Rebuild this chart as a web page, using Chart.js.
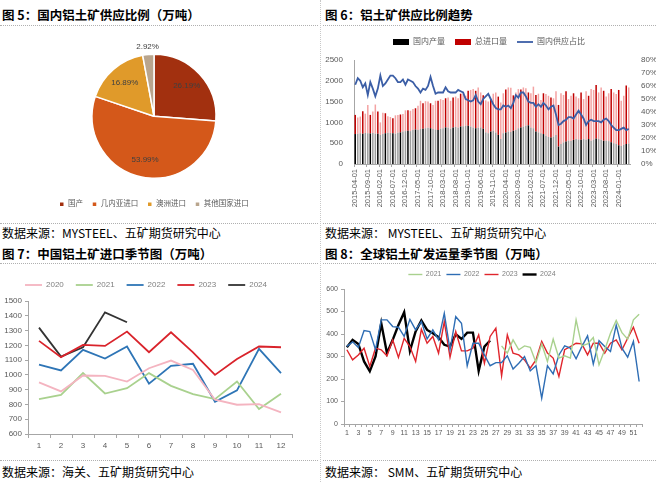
<!DOCTYPE html>
<html>
<head>
<meta charset="utf-8">
<script src="https://cdn.jsdelivr.net/npm/chart.js@4.4.1/dist/chart.umd.min.js"></script>
<style>
  body { margin: 0; width: 656px; height: 482px; background: #fff; position: relative; overflow: hidden;
         font-family: "Noto Sans CJK SC", sans-serif; }
  .title { position: absolute; font-weight: bold; font-size: 12.5px; line-height: 16px; color: #000; white-space: nowrap; }
  .src { position: absolute; font-size: 12px; line-height: 16px; color: #000; white-space: nowrap; }
  .hline { position: absolute; height: 0; border-top: 1px dotted #b0b0b0; }
  .vline { position: absolute; width: 0; border-left: 1px dotted #c8c8c8; top: 0; height: 482px; left: 320px; }
  canvas { position: absolute; }
</style>
</head>
<body>
<div class="title" style="left:2px;top:7px">图 5：国内铝土矿供应比例（万吨）</div>
<div class="title" style="left:325px;top:7px">图 6：铝土矿供应比例趋势</div>
<div class="hline" style="left:0;top:25px;width:318px"></div>
<div class="hline" style="left:323px;top:25px;width:333px"></div>
<div class="hline" style="left:0;top:223px;width:318px"></div>
<div class="hline" style="left:323px;top:223px;width:333px"></div>
<div class="src" style="left:2px;top:225px">数据来源：MYSTEEL、五矿期货研究中心</div>
<div class="src" style="left:325px;top:225px">数据来源：&nbsp;MYSTEEL、五矿期货研究中心</div>

<div class="title" style="left:2px;top:246px">图 7：中国铝土矿进口季节图（万吨）</div>
<div class="title" style="left:325px;top:246px">图 8：全球铝土矿发运量季节图（万吨）</div>
<div class="hline" style="left:0;top:263px;width:318px"></div>
<div class="hline" style="left:323px;top:263px;width:333px"></div>
<div class="hline" style="left:0;top:460px;width:318px"></div>
<div class="hline" style="left:323px;top:460px;width:333px"></div>
<div class="src" style="left:2px;top:464px">数据来源：海关、五矿期货研究中心</div>
<div class="src" style="left:325px;top:464px">数据来源：&nbsp;SMM、五矿期货研究中心</div>
<div class="vline"></div>

<canvas id="pieChart" width="318" height="192" style="left:0;top:28px"></canvas>
<canvas id="trendChart" width="334" height="192" style="left:322px;top:28px"></canvas>
<canvas id="importChart" width="318" height="192" style="left:0;top:266px"></canvas>
<canvas id="shipChart" width="334" height="192" style="left:322px;top:266px"></canvas>

<script>
// ---- 图5 ----
const pieLabels = ["国产", "几内亚进口", "澳洲进口", "其他国家进口"];
const pieShares = [26.19, 53.99, 16.89, 2.92];

// ---- 图6 ---- (2015-04 .. 2024-05, 万吨 / %)
const domestic = [
  720, 730, 740, 730, 745, 740, 735, 745, 730,
  730, 700, 720, 740, 750, 745, 740, 730, 750, 760, 780, 790,
  800, 790, 820, 830, 820, 840, 850, 860, 870, 860, 840, 830,
  820, 850, 860, 880, 870, 850, 880, 890, 870, 900, 910, 920,
  920, 900, 880, 860, 870, 880, 850, 760, 740, 780, 800, 760,
  700, 600, 740, 760, 780, 770, 800, 820, 860, 880, 900, 920,
  930, 880, 860, 780, 760, 740, 720, 680, 650, 640, 660, 700,
  420, 480, 520, 540, 560, 550, 580, 600, 590, 580, 600, 580,
  600, 560, 590, 610, 600, 580, 560, 560, 550, 520, 500, 480,
  450, 430, 460, 480, 490
];
const imports = [
  460, 390, 400, 540, 465, 680, 445, 515, 700,
  530, 300, 510, 480, 400, 385, 360, 440, 430, 430, 420, 500,
  490, 490, 500, 510, 580, 680, 610, 650, 630, 600, 580, 690,
  700, 710, 680, 700, 730, 670, 720, 730, 710, 790, 790, 720,
  840, 880, 920, 900, 970, 840, 800, 770, 760, 770, 890, 960,
  920, 880, 960, 1030, 1060, 1060, 850, 900, 940, 910, 940, 900,
  790, 820, 1000, 880, 930, 800, 980, 1000, 990, 960, 920, 1050,
  1000, 1220, 1140, 1210, 1000, 1090, 1120, 1020, 990, 1140, 960, 1170,
  1040, 1240, 1190, 1290, 1120, 1260, 1200, 1060, 1150, 1280, 1220, 1200,
  1330, 1090, 1180, 1410, 1350
];
const domesticShare = [
  61, 66, 64, 59, 62, 53, 63, 58, 52,
  58, 68, 60, 62, 65, 68, 68, 66, 63, 63, 65, 61,
  65, 64, 63, 60, 58, 55, 58, 57, 60, 67, 60, 54,
  55, 55, 55, 59, 56, 55, 55, 55, 57, 56, 55, 50,
  49, 48, 49, 53, 48, 46, 50, 52, 54, 50, 46, 43,
  42, 42, 45, 44, 45, 43, 47, 53, 51, 55, 55, 52,
  48, 47, 47, 44, 46, 44, 47, 45, 42, 44, 45, 38,
  30, 31, 33, 34, 36, 36, 35, 38, 41, 38, 35, 30,
  33, 34, 33, 33, 33, 32, 34, 35, 33, 30, 28, 26,
  26, 27, 28, 26, 27
];
const months = [];
for (let y = 2015, m = 4; months.length < domestic.length; m++) {
  if (m > 12) { m = 1; y++; }
  months.push(y + "-" + String(m).padStart(2, "0") + "-01");
}

// ---- 图7 ----
const importMonths = ["1", "2", "3", "4", "5", "6", "7", "8", "9", "10", "11", "12"];
const imp2020 = [949, 888, 996, 994, 955, 1045, 1097, 1034, 832, 798, 802, 746];
const imp2021 = [836, 865, 1012, 874, 910, 1012, 926, 870, 836, 955, 769, 872];
const imp2022 = [1070, 1030, 1169, 1111, 1192, 940, 1061, 1075, 818, 895, 1176, 1012];
const imp2023 = [1230, 1120, 1203, 1196, 1293, 1153, 1288, 1153, 1000, 1108, 1192, 1187];
const imp2024 = [1320, 1124, 1187, 1423, 1356];

// ---- 图8 ----
const weeks = [];
for (let w = 1; w <= 52; w++) weeks.push(String(w));
const ship2021 = [
  null, null, null, null, null, null, null, null, null, null, null, null, null,
  null, null, null, null, null, null, null, null, null, null, null, null, null, null,
  347, 315, 374, 330, 347, 341, 273, 355, 278, 377, 293, 303, 293,
  463, 347, 356, 384, 263, 330, 403, 460, 406, 377, 463, 488
];
const ship2022 = [
  345, 365, 340, 415, 411, 330, 463, 463, 433, 430, 389, 465, 418,
  455, 378, 418, 374, 492, 330, 477, 448, 259, 359, 359, 307, 259,
  273, 273, 303, 244, 270, 300, 236, 259, 115, 259, 223, 307, 347,
  337, 290, 344, 392, 266, 370, 344, 322, 440, 337, 297, 367, 189
];
const ship2023 = [
  330, 285, 307, 337, 256, 337, 330, 303, 374, 296, 381, 344, 278,
  421, 359, 389, 315, 455, 297, 411, 325, 325, 337, 396, 270, 389,
  426, 214, 396, 315, 307, 285, 248, 285, 367, 315, 293, 211, 330,
  344, 359, 356, 307, 359, 359, 315, 359, 374, 330, 381, 430, 359
];
const ship2024 = [
  341, 374, 356, 278, 234, 300, 448, 315, 374, 440, 497, 325, 411,
  460, 418, 403, 386, 352, 344, 399, 378, 406, 406, 236, 344, 371
];

const tickFont = { size: 8 };
const gray = "#595959";
const axisGray = "#a6a6a6";
const plain = v => String(v);

Chart.defaults.font.family = '"Liberation Sans", "Noto Sans CJK SC", sans-serif';
Chart.defaults.color = gray;
Chart.defaults.animation = false;

// extra room between a top legend and the plot
const legendGap = {
  id: "legendGap",
  beforeInit(chart, args, opts) {
    const fit = chart.legend.fit;
    chart.legend.fit = function () {
      fit.call(this);
      this.height += opts.extra || 0;
    };
  }
};

// labels on pie slices
const pieValueLabels = {
  id: "pieValueLabels",
  afterDatasetsDraw(chart) {
    const ctx = chart.ctx;
    const meta = chart.getDatasetMeta(0);
    ctx.save();
    ctx.font = '8px "Liberation Sans", sans-serif';
    ctx.fillStyle = "#404040";
    ctx.textAlign = "center";
    ctx.textBaseline = "middle";
    meta.data.forEach((arc, i) => {
      const mid = (arc.startAngle + arc.endAngle) / 2;
      const r = pieShares[i] < 5 ? arc.outerRadius + 8 : arc.outerRadius * 0.72;
      ctx.fillText(pieShares[i].toFixed(2) + "%", arc.x + Math.cos(mid) * r, arc.y + Math.sin(mid) * r);
    });
    ctx.restore();
  }
};

new Chart(document.getElementById("pieChart"), {
  type: "pie",
  data: {
    labels: pieLabels,
    datasets: [{
      data: pieShares,
      backgroundColor: ["#a2300f", "#d4581a", "#e09a2a", "#b9a58d"],
      borderColor: "#fff",
      borderWidth: 1.5,
      radius: 62
    }]
  },
  options: {
    responsive: false,
    layout: { padding: { top: 13, bottom: 2, left: 0, right: 10 } },
    plugins: {
      legend: {
        position: "bottom",
        labels: { usePointStyle: true, pointStyle: "rect", boxHeight: 5, pointStyleWidth: 5,
                  padding: 9, font: { size: 7.5 }, color: gray }
      },
      tooltip: { enabled: false }
    }
  },
  plugins: [pieValueLabels]
});

// thin bars blur to dark/light at this size, keep that look
const shade = (dark, light) => c => (c.dataIndex % 3 === 0 ? dark : light);

new Chart(document.getElementById("trendChart"), {
  type: "bar",
  data: {
    labels: months,
    datasets: [
      { label: "国内产量", data: domestic, backgroundColor: shade("#000000", "#9c9c9c"), order: 1,
        barPercentage: 0.6, categoryPercentage: 1 },
      { label: "总进口量", data: imports, backgroundColor: shade("#c00000", "#f4a3a3"), order: 1,
        barPercentage: 0.6, categoryPercentage: 1 },
      { label: "国内供应占比", type: "line", data: domesticShare, yAxisID: "y1", order: 0,
        borderColor: "#3b5ea6", backgroundColor: "#3b5ea6", borderWidth: 1.8,
        pointRadius: 0, tension: 0 }
    ]
  },
  options: {
    responsive: false,
    layout: { padding: { top: 0, bottom: 6, left: 0, right: 0 } },
    plugins: {
      legendGap: { extra: 4 },
      legend: {
        labels: {
          usePointStyle: true, boxHeight: 6, pointStyleWidth: 16, padding: 10,
          font: { size: 8 }, color: gray,
          generateLabels(chart) {
            const items = Chart.defaults.plugins.legend.labels.generateLabels(chart);
            items.forEach(it => { it.pointStyle = it.datasetIndex === 2 ? "line" : "rect"; });
            return items.sort((a, b) => a.datasetIndex - b.datasetIndex);
          }
        }
      },
      tooltip: { enabled: false }
    },
    scales: {
      x: {
        stacked: true,
        grid: { drawOnChartArea: false, tickLength: 3,
                color: c => (c.index % 5 === 0 ? axisGray : "rgba(0,0,0,0)") },
        border: { color: axisGray },
        ticks: { autoSkip: false, minRotation: 90, maxRotation: 90, font: { size: 7.5 }, color: gray, padding: 2,
                 callback: function (v, i) { return i % 5 === 0 ? this.getLabelForValue(v) : ""; } },
        afterFit: s => { s.height = 50; }
      },
      y: {
        stacked: true, min: 0, max: 2500,
        grid: { display: false },
        border: { color: axisGray },
        ticks: { stepSize: 500, font: tickFont, color: gray, callback: plain },
        afterFit: s => { s.width = 32; }
      },
      y1: {
        position: "right", min: 0, max: 80,
        grid: { display: false },
        border: { display: false },
        ticks: { stepSize: 10, font: tickFont, color: gray, callback: v => v + "%" },
        afterFit: s => { s.width = 26; }
      }
    }
  },
  plugins: [legendGap]
});

function seasonLine(label, data, color, width) {
  return { label: label, data: data, borderColor: color, backgroundColor: color,
           borderWidth: width, pointRadius: 0, tension: 0, spanGaps: false };
}

new Chart(document.getElementById("importChart"), {
  type: "line",
  data: {
    labels: importMonths,
    datasets: [
      seasonLine("2020", imp2020, "#f4b4c0", 1.8),
      seasonLine("2021", imp2021, "#a9d18e", 1.8),
      seasonLine("2022", imp2022, "#2e75b6", 1.8),
      seasonLine("2023", imp2023, "#d9232b", 1.8),
      seasonLine("2024", imp2024, "#333333", 1.8)
    ]
  },
  options: {
    responsive: false,
    layout: { padding: { top: 3, bottom: 4, left: 0, right: 26 } },
    plugins: {
      legendGap: { extra: 2 },
      legend: { labels: { usePointStyle: true, pointStyle: "line", boxHeight: 6, pointStyleWidth: 17,
                          padding: 12, font: { size: 8 }, color: "#7f7f7f" } },
      tooltip: { enabled: false }
    },
    scales: {
      x: {
        offset: true,
        grid: { offset: true, drawOnChartArea: false, tickLength: 4, color: axisGray },
        border: { color: axisGray },
        ticks: { font: tickFont, color: gray, padding: 3 },
        afterFit: s => { s.height = 20; }
      },
      y: {
        min: 600, max: 1500,
        grid: { drawOnChartArea: false, tickLength: 3, color: axisGray },
        border: { color: axisGray },
        ticks: { stepSize: 100, font: tickFont, color: gray, callback: plain },
        afterFit: s => { s.width = 28; }
      }
    }
  },
  plugins: [legendGap]
});

new Chart(document.getElementById("shipChart"), {
  type: "line",
  data: {
    labels: weeks,
    datasets: [
      seasonLine("2021", ship2021, "#a9d18e", 1.4),
      seasonLine("2022", ship2022, "#2e6db4", 1.4),
      seasonLine("2023", ship2023, "#e0252c", 1.4),
      seasonLine("2024", ship2024, "#000000", 2.4)
    ]
  },
  options: {
    responsive: false,
    layout: { padding: { top: 0, bottom: 20, left: 0, right: 14 } },
    plugins: {
      legendGap: { extra: 1 },
      legend: { labels: { usePointStyle: true, pointStyle: "line", boxHeight: 5, pointStyleWidth: 14,
                          padding: 5, font: { size: 7 }, color: "#7f7f7f" } },
      tooltip: { enabled: false }
    },
    scales: {
      x: {
        offset: true,
        grid: { offset: true, drawOnChartArea: false, tickLength: 3, color: axisGray },
        border: { color: axisGray },
        ticks: { autoSkip: false, maxRotation: 0, font: { size: 7 }, color: gray, padding: 2,
                 callback: function (v, i) { return i % 2 === 0 ? this.getLabelForValue(v) : ""; } },
        afterFit: s => { s.height = 14; }
      },
      y: {
        min: 0, max: 600,
        grid: { drawOnChartArea: false, tickLength: 3, color: axisGray },
        border: { color: axisGray },
        ticks: { stepSize: 100, font: { size: 7 }, color: gray },
        afterFit: s => { s.width = 22; }
      }
    }
  },
  plugins: [legendGap]
});
</script>
</body>
</html>
